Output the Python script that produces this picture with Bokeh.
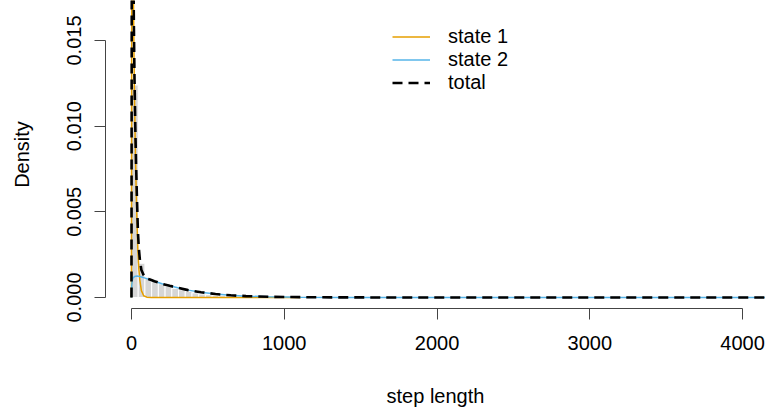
from bokeh.plotting import figure
from bokeh.models import Range1d, FixedTicker, Legend, LegendItem, ColumnDataSource
from bokeh.embed import file_html
from bokeh.resources import INLINE

# ---- data ----
bin_edges = [0, 44, 88, 132, 176, 220, 264, 308, 352, 396, 440, 484, 528, 572,
             616, 660, 704, 748, 792, 836, 880, 924, 968, 1012, 1056, 1100]
bin_density = [0.01240, 0.00200, 0.00118, 0.00099, 0.00080, 0.00066, 0.00054,
               0.00045, 0.00035, 0.00027, 0.00020, 0.00016, 0.00013, 0.00010,
               0.00008, 0.00006, 0.00005, 0.00004, 0.00003, 0.00003, 0.00002,
               0.00002, 0.00001, 0.00001, 0.00001]

state1_x = [0, 2, 4, 6, 8, 10, 13, 16, 20, 25, 30, 35, 42, 48, 55, 65, 80, 100,
            130, 200, 400, 700, 1110]
state1_y = [0, 0.019, 0.026, 0.027, 0.025, 0.022, 0.0175, 0.0145, 0.0115, 0.0088,
            0.0066, 0.0048, 0.0027, 0.0017, 0.0010, 0.0004, 0.0001, 0.00002,
            0.000005, 0, 0, 0, 0]

state2_x = [0, 2, 5, 10, 20, 37, 60, 90, 120, 150, 200, 250, 290, 370, 455, 550,
            650, 750, 900, 1100, 1400, 1800, 2500, 4200]
state2_y = [0, 0.0007, 0.0010, 0.00115, 0.00122, 0.00125, 0.00121, 0.00113,
            0.00104, 0.00095, 0.00080, 0.00068, 0.00060, 0.00043, 0.00031,
            0.00020, 0.00013, 0.00008, 0.00004, 0.00002, 0.000006, 0.000002, 0, 0]

total_x = [0, 2, 4, 6, 8, 10, 13, 16, 20, 25, 30, 35, 42, 48, 55, 65, 80, 100,
           130, 150, 200, 250, 290, 370, 455, 550, 650, 750, 900, 1100, 1400,
           1800, 2500, 4200]
total_y = [0, 0.0197, 0.0269, 0.0280, 0.0261, 0.0232, 0.0187, 0.0157, 0.0127,
           0.0100, 0.0078, 0.0061, 0.0039, 0.0029, 0.0022, 0.0016, 0.0013,
           0.0011, 0.00102, 0.00095, 0.00080, 0.00068, 0.00060, 0.00043,
           0.00031, 0.00020, 0.00013, 0.00008, 0.00004, 0.00002, 0.000006,
           0.000002, 0, 0]

x_ticks = [0, 1000, 2000, 3000, 4000]
y_ticks = [0, 0.005, 0.010, 0.015]
y_tick_labels = ["0.000", "0.005", "0.010", "0.015"]
legend_labels = ["state 1", "state 2", "total"]

FONT = "Liberation Sans"
FS = "20px"

p = figure(width=765, height=414, output_backend="svg", toolbar_location=None,
           x_range=Range1d(-170, 4150), y_range=Range1d(-0.000642, 0.017335),
           min_border_left=105, min_border_right=0, min_border_top=0,
           min_border_bottom=106)
p.outline_line_color = None
p.grid.visible = False
p.background_fill_color = "white"
p.border_fill_color = "white"

src_hist = ColumnDataSource(dict(left=bin_edges[:-1], right=bin_edges[1:],
                                 top=bin_density, bottom=[0] * len(bin_density)))
p.quad(left="left", right="right", top="top", bottom="bottom", source=src_hist,
       fill_color="#D6D6D6", line_color="white", line_width=1)

r1 = p.line(state1_x, state1_y, line_color="#E69F00", line_width=1.5)
r2 = p.line(state2_x, state2_y, line_color="#56B4E9", line_width=1.5)
r3 = p.line(total_x, total_y, line_color="black", line_width=2.6, line_dash="10 6")

# axes
xa = p.xaxis[0]
xa.ticker = FixedTicker(ticks=x_ticks)
xa.bounds = (0, 4000)
xa.axis_label = "step length"
ya = p.yaxis[0]
ya.ticker = FixedTicker(ticks=y_ticks)
ya.bounds = (0, 0.015)
ya.major_label_overrides = {t: l for t, l in zip(y_ticks, y_tick_labels)}
ya.axis_label = "Density"
ya.major_label_orientation = "vertical"

for ax in (xa, ya):
    ax.axis_line_color = "#444444"
    ax.major_tick_line_color = "#444444"
    ax.minor_tick_line_color = None
    ax.major_tick_in = 0
    ax.major_tick_out = 11
    ax.major_label_text_font = FONT
    ax.major_label_text_font_size = FS
    ax.major_label_text_color = "black"
    ax.axis_label_text_font = FONT
    ax.axis_label_text_font_size = FS
    ax.axis_label_text_font_style = "normal"
    ax.axis_label_text_color = "black"

xa.major_label_standoff = 16
xa.axis_label_standoff = 32
ya.major_label_standoff = 13
ya.axis_label_standoff = 32

legend = Legend(items=[LegendItem(label=legend_labels[0], renderers=[r1]),
                       LegendItem(label=legend_labels[1], renderers=[r2]),
                       LegendItem(label=legend_labels[2], renderers=[r3])],
                location=(287, 214), orientation="vertical",
                background_fill_alpha=0, border_line_alpha=0,
                glyph_width=38, glyph_height=23, label_height=23,
                label_standoff=18, spacing=0, padding=0, margin=0,
                label_text_font=FONT, label_text_font_size=FS,
                label_text_color="black")
p.add_layout(legend)

open("out.html", "w").write(file_html(p, INLINE))
